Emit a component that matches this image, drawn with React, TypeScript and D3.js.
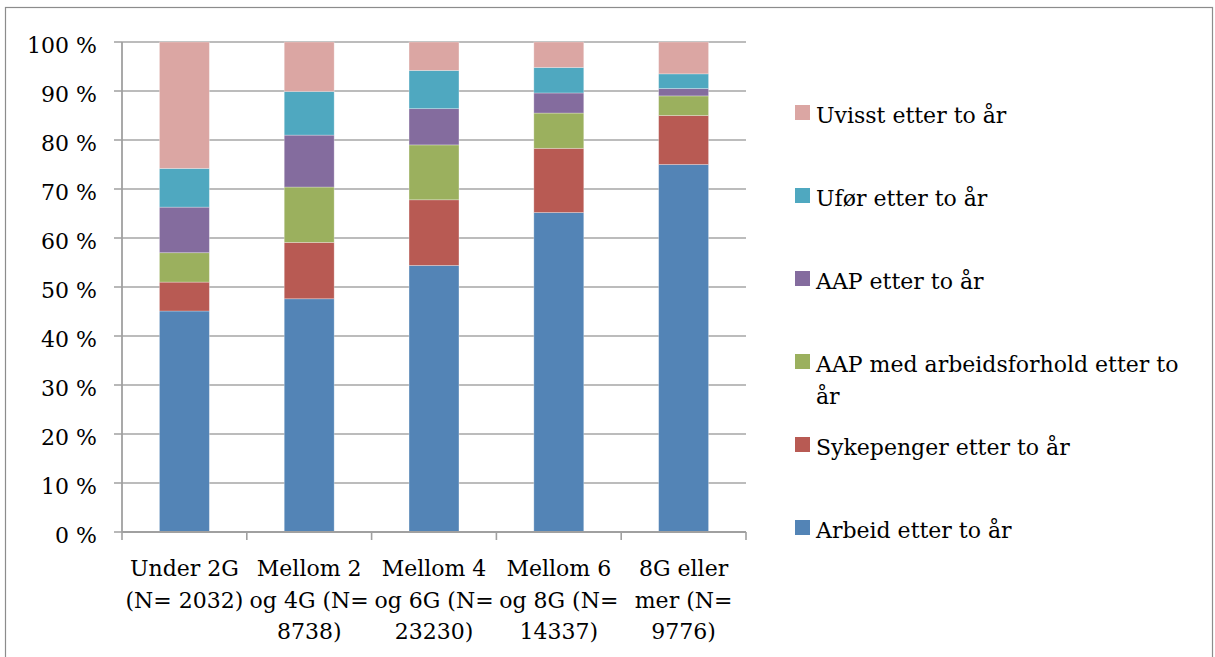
import React from "react";
import * as d3 from "d3";

const categories: string[][] = [
  ["Under 2G", "(N= 2032)"],
  ["Mellom 2", "og 4G (N=", "8738)"],
  ["Mellom 4", "og 6G (N=", "23230)"],
  ["Mellom 6", "og 8G (N=", "14337)"],
  ["8G eller", "mer (N=", "9776)"],
];

const seriesNames = [
  "Arbeid etter to år",
  "Sykepenger etter to år",
  "AAP med arbeidsforhold etter to år",
  "AAP etter to år",
  "Ufør etter to år",
  "Uvisst etter to år",
];

const legendLines: string[][] = [
  ["Arbeid etter to år"],
  ["Sykepenger etter to år"],
  ["AAP med arbeidsforhold etter to", "år"],
  ["AAP etter to år"],
  ["Ufør etter to år"],
  ["Uvisst etter to år"],
];

const arbeid = [45.1, 47.6, 54.4, 65.2, 75.0];
const sykepenger = [5.9, 11.5, 13.4, 13.1, 10.0];
const aapMedArbeid = [6.0, 11.3, 11.2, 7.2, 4.0];
const aap = [9.3, 10.6, 7.4, 4.1, 1.5];
const ufor = [7.9, 8.9, 7.8, 5.2, 3.0];
const uvisst = [25.8, 10.1, 5.8, 5.2, 6.5];

const seriesValues = [arbeid, sykepenger, aapMedArbeid, aap, ufor, uvisst];

const colors = ["#5384B6", "#B85A53", "#9BB05E", "#846C9E", "#4FA8C0", "#DBA6A3"];

const yTicks = [0, 10, 20, 30, 40, 50, 60, 70, 80, 90, 100];

const FONT = "'DejaVu Serif', serif";

export default function App() {
  const W = 1215;
  const H = 657;
  const plotLeft = 122;
  const plotRight = 746;
  const plotTop = 42;
  const plotBottom = 532;

  const keys = categories.map((c) => c.join(" "));
  const x = d3
    .scaleBand<string>()
    .domain(keys)
    .range([plotLeft, plotRight])
    .paddingInner(0.6)
    .paddingOuter(0.3);
  const xStep = d3.scaleBand<string>().domain(keys).range([plotLeft, plotRight]);
  const y = d3.scaleLinear().domain([0, 100]).range([plotBottom, plotTop]);

  const table = keys.map((k, i) => {
    const row: any = { key: k };
    seriesNames.forEach((s, j) => (row[s] = seriesValues[j][i]));
    return row;
  });
  const stacked = d3.stack<any>().keys(seriesNames)(table);

  const legendX = 795;
  const legendTop0 = 105;
  const legendStep = 83;

  return (
    <svg
      width={W}
      height={H}
      style={{ position: "absolute", left: 0, top: 0, background: "#fff" }}
      fontFamily={FONT}
    >
      <rect x={0} y={0} width={W} height={H} fill="#fff" />
      <rect x={5.5} y={7.5} width={1207} height={700} fill="none" stroke="#8c8c8c" strokeWidth={1.2} />

      {/* gridlines */}
      {yTicks.map((t) => (
        <g key={t}>
          {t > 0 && (
            <line x1={plotLeft} x2={plotRight} y1={y(t)} y2={y(t)} stroke="#A6A6A6" strokeWidth={1.6} />
          )}
          <line x1={114} x2={plotLeft} y1={y(t)} y2={y(t)} stroke="#A6A6A6" strokeWidth={1.6} />
          <text x={97} y={y(t) + 11} textAnchor="end" fontSize={22} fill="#000">
            {t} %
          </text>
        </g>
      ))}

      {/* bars */}
      {stacked.map((layer, si) => (
        <g key={layer.key} fill={colors[si]}>
          {layer.map((d, i) => (
            <rect
              key={i}
              x={x(keys[i])}
              y={y(d[1])}
              width={x.bandwidth()}
              height={y(d[0]) - y(d[1])}
              stroke="rgba(255,255,255,0.35)"
              strokeWidth={0.8}
            />
          ))}
        </g>
      ))}

      {/* axes */}
      <line x1={plotLeft} x2={plotLeft} y1={plotTop} y2={plotBottom} stroke="#A0A0A0" strokeWidth={1.8} />
      <line x1={plotLeft} x2={plotRight} y1={plotBottom} y2={plotBottom} stroke="#A0A0A0" strokeWidth={1.8} />
      {keys.map((k) => (
        <line
          key={k}
          x1={xStep(k)!}
          x2={xStep(k)!}
          y1={plotBottom}
          y2={plotBottom + 8}
          stroke="#A0A0A0"
          strokeWidth={1.6}
        />
      ))}
      <line x1={plotRight} x2={plotRight} y1={plotBottom} y2={plotBottom + 8} stroke="#A0A0A0" strokeWidth={1.6} />

      {/* x labels */}
      {categories.map((lines, i) => (
        <text
          key={i}
          x={x(keys[i])! + x.bandwidth() / 2}
          y={576}
          textAnchor="middle"
          fontSize={22}
          fill="#000"
        >
          {lines.map((l, li) => (
            <tspan key={li} x={x(keys[i])! + x.bandwidth() / 2} y={576 + li * 31.5}>
              {l}
            </tspan>
          ))}
        </text>
      ))}

      {/* legend (top to bottom: reversed series) */}
      {seriesNames
        .map((_, i) => i)
        .reverse()
        .map((si, row) => {
          const top = legendTop0 + row * legendStep;
          return (
            <g key={si}>
              <rect x={legendX} y={top} width={15} height={15} fill={colors[si]} />
              <text x={legendX + 21} y={top + 18} fontSize={22} fill="#000">
                {legendLines[si].map((l, li) => (
                  <tspan key={li} x={legendX + 21} y={top + 18 + li * 32}>
                    {l}
                  </tspan>
                ))}
              </text>
            </g>
          );
        })}
    </svg>
  );
}
